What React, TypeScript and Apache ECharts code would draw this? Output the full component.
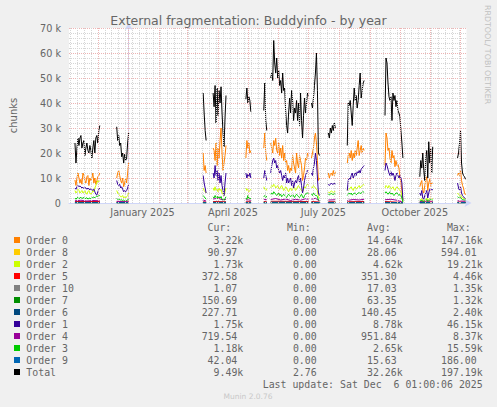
import React, { useEffect, useRef } from "react";
import * as echarts from "echarts";

// ---- time layout (days since 1 Jan 2025) ----
const X_MIN = -60;
const X_MAX = 340;
const SEG_STARTS = [-54, -12, 75, 85, 118, 136, 143, 184, 201, 220, 258, 293, 331];
const SEG_ENDS = [-29, 0, 78, 98, 123, 139, 181, 192, 208, 237, 276, 306, 339];
const MONTH_STARTS = [-31, 0, 31, 59, 90, 120, 151, 181, 212, 243, 273, 304, 334];
const LABEL_DAYS = [14, 105, 196, 288];
const LABEL_TEXT = ["January 2025", "April 2025", "July 2025", "October 2025"];

// ---- series values, thousands of chunks, one value per day ----
const TOTAL = [
  [24, 16, 22, 26, 23, 26, 27, 22, 24, 25, 19, 22, 24, 21, 20, 23, 21, 18, 22, 25, 20, 26, 27, 24, 29, 31],
  [30.5, 25, 27, 23, 24, 18.5, 20, 16, 19.5, 17, 18, 24, 28],
  [44, 36, 29, 25],
  [44, 38.5, 47, 32, 46, 35, 45, 40, 46.5, 36, 28, 22.5, 34, 43],
  [41.5, 46, 40, 42.5, 41, 36.5],
  [37, 48, 33, 29],
  [50, 52, 49, 65, 56, 52, 58, 50, 53, 47, 49, 44, 52, 45, 46, 37, 31, 28, 36, 42, 36, 45, 41, 33, 38, 36, 41, 33, 40, 31, 44, 33, 26, 35, 42, 36, 40, 44, 43],
  [40, 38, 42, 47, 52, 60, 45, 20, 19],
  [28, 26, 30, 28, 31, 29, 32, 30],
  [23, 40, 39, 41, 36, 31, 39, 46, 41, 43, 38, 41, 47, 52, 42, 45, 48, 49],
  [35, 58, 56, 48, 42.5, 41, 42.5, 33, 44, 41, 43, 38.5, 41, 37, 36, 34.5, 29, 24, 18],
  [10.5, 17, 14, 20, 13, 9, 18, 21, 10, 24.5, 16, 22, 12, 22.5],
  [18, 20, 24, 29, 16, 12, 11, 10.5, 9.49],
];
const ORDER0 = [
  [9.2, 7, 10, 12, 10, 8, 9.5, 7.5, 12, 11, 9, 8, 10.5, 11, 7, 10, 9, 10, 12, 8, 10, 7.5, 9, 10.5, 11, 12],
  [10, 12, 13, 11, 9, 8, 10, 6.5, 8, 10, 8, 12, 16],
  [20, 13, 15, 12],
  [22, 21, 17, 24, 15, 22, 18, 25, 30, 20, 13, 16, 19, 23],
  [18, 25, 22, 24, 20, 21],
  [22, 28, 20, 17],
  [24, 22, 20, 25, 23, 26, 21, 20, 24, 19, 22, 18, 23, 17, 20, 16, 17, 13, 15, 12, 14, 13, 19, 16, 14, 12, 20, 16, 14, 19, 17, 15, 9, 11, 14, 18, 17, 20, 19],
  [18, 20, 22, 26, 28, 24, 17, 9, 10],
  [12, 10, 11.5, 12, 11, 13, 11, 12.5],
  [16, 19, 20, 18, 21, 17, 20, 18, 21, 19, 22, 25, 19, 21, 23, 20, 22, 21],
  [15, 28, 26, 21, 22, 18, 16, 21, 18, 19, 14.5, 17, 15, 15.5, 14, 10.5, 8, 5, 1],
  [6.5, 8, 9, 5, 4, 7, 9, 10.5, 5, 8, 9.5, 7, 8, 8],
  [11, 12, 11, 13, 9, 7, 6, 4, 3.22],
];
const ORDER1 = [
  [6, 5.5, 6.5, 7, 6.5, 6.8, 6.5, 6, 6.3, 5.8, 6.2, 6, 5.5, 6, 5.6, 5.2, 5.8, 5.5, 5, 5.5, 4.5, 3.5, 3.2, 4.5, 5.5, 6],
  [9, 7.5, 7, 7.5, 6, 6.5, 5.5, 4.5, 5, 4.5, 5, 6, 7.5],
  [11, 8, 6, 4],
  [12, 10, 15, 11, 13, 9, 12, 8, 11, 7, 5, 3, 8, 12],
  [12, 10, 11.5, 10.5, 12, 10],
  [10, 13, 11, 9],
  [12, 15, 17, 18, 16, 17, 14, 15, 13, 12, 13, 11, 9, 11, 10, 12, 8, 10, 8, 9, 10, 7, 9, 6, 8, 9, 8, 10, 11, 8, 10, 7, 4, 6, 9, 11, 12, 13, 13],
  [12, 11, 14, 16, 20, 17, 10, 4, 3],
  [7.5, 7, 7.5, 8, 7.5, 7.5, 8, 7.5],
  [5, 9, 10, 9.5, 11, 12, 10, 11, 12, 11, 12.5, 12, 13, 12, 13.5, 14, 14.5, 15],
  [13, 16, 15, 13.5, 12, 11, 12.5, 11, 12, 11, 9, 11, 12, 11, 10, 11, 10, 8, 1],
  [4, 3, 5, 2, 1.5, 3, 4, 5, 2, 4, 5.5, 6, 5, 5.5],
  [8, 6, 5, 6.5, 4, 3, 2.5, 2, 1.75],
];
const ORDER2 = [
  [5, 4, 4.5, 5.5, 5, 4, 4.5, 5, 4, 4.5, 5, 4, 3.5, 4.5, 5, 4, 3.5, 4, 5, 4.5, 6, 7, 8, 9, 8.5, 9],
  [5, 4, 3.5, 3, 2.5, 2.5, 3, 2, 2.5, 2, 2.5, 3, 4],
  [6, 5, 4.5, 4],
  [6, 5, 6.5, 5, 5.5, 4.5, 6, 5, 5.5, 4, 3.5, 3, 4.5, 6],
  [6, 5, 5.5, 4.5, 5, 5.5],
  [6.5, 5.5, 6, 5],
  [6, 7, 6.5, 7.5, 7, 6, 6.5, 7, 6, 5.5, 6.5, 7, 6, 5, 5.5, 6.5, 6, 5, 4.5, 5.5, 6, 5, 5.5, 6.5, 6, 5, 5.5, 6.5, 7, 6, 5.5, 5, 4.5, 5.5, 6.5, 6, 7, 7.5, 7],
  [6.5, 6, 7, 6.5, 6, 5.5, 5, 2.5, 2],
  [4.5, 4, 4.5, 4.8, 4.5, 4.2, 4.6, 4.5],
  [5, 6, 5.5, 6, 6.5, 5.5, 5, 6, 6.5, 5.5, 6, 6.5, 7, 6, 6.5, 7, 7.5, 7],
  [6, 7, 6.5, 6, 7, 6.5, 5.5, 6, 6.5, 5.5, 5, 6, 6.5, 6, 5.5, 5, 4.5, 3, 0.5],
  [1.5, 1.2, 1.8, 1, 0.8, 1.3, 1.6, 2, 1, 1.5, 1.8, 2, 1.6, 1.8],
  [4, 3.5, 3, 3.5, 2.5, 2, 1.8, 1.7, 1.73],
];
const ORDER3 = [
  [2, 1.5, 2, 2.2, 1.8, 2, 2.3, 1.8, 2, 2.2, 1.7, 1.9, 2.1, 1.6, 1.8, 2, 1.7, 2, 2.2, 2.4, 2.1, 2.5, 2.8, 2.6, 2.9, 3],
  [1.8, 1.4, 1.2, 1.5, 1.1, 1.3, 1, 1.2, 0.9, 1.1, 1, 1.3, 1.5],
  [3, 2.5, 2, 1.5],
  [2.5, 2, 3, 2.2, 2.8, 1.8, 2.5, 2, 2.6, 1.5, 1.2, 1, 1.8, 2.5],
  [2, 1.5, 3, 1.8, 2, 1.6],
  [2.5, 3, 2.2, 2.8],
  [3.5, 4, 3.5, 4.5, 4, 3.5, 3, 3.5, 4, 3, 3.5, 2.5, 3, 3.5, 3, 2.5, 2.2, 3, 3.5, 3, 2.5, 3, 3.5, 2.8, 2.2, 3, 3.5, 3, 2.5, 2.2, 3, 3.5, 2.5, 2, 3, 3.5, 4, 4, 3.8],
  [3.5, 3, 4, 3.5, 3, 3, 2.5, 1.2, 1],
  [3.5, 3.3, 3.6, 3.8, 3.5, 3.4, 3.7, 3.5],
  [3, 3.5, 4, 3.5, 4, 3.2, 3.5, 4, 3.8, 3.3, 3.6, 4, 4.2, 3.8, 4, 4.3, 4.5, 4.2],
  [4, 4.5, 4, 3.5, 4, 4.5, 3.5, 4, 3.5, 3, 3.5, 4, 4, 3.5, 3, 3.5, 3, 2, 0.3],
  [1, 0.8, 1.2, 0.6, 0.5, 0.9, 1.1, 1.3, 0.6, 1, 1.2, 1.4, 1.1, 1.2],
  [2.5, 2.2, 2, 2.3, 1.6, 1.4, 1.3, 1.2, 1.18],
];
// Order 4: sparse [day, value] readings per segment
const ORDER4 = [
  [[-54, 0.9], [-48, 1.1], [-42, 0.8], [-36, 1.0], [-29, 0.9]],
  [[-12, 0.7], [-6, 0.6], [0, 0.8]],
  [[75, 1.2], [78, 0.8]],
  [[85, 1.6], [90, 1.9], [95, 1.2], [98, 1.5]],
  [[118, 1.3], [123, 1.1]],
  [[136, 1.5], [139, 1.3]],
  [[143, 1.4], [148, 1.8], [153, 1.2], [158, 1.6], [163, 1.0], [168, 1.5], [173, 1.1], [178, 1.7], [181, 1.5]],
  [[184, 1.5], [188, 1.9], [192, 0.8]],
  [[201, 1.2], [208, 1.3]],
  [[220, 1.0], [226, 1.4], [232, 1.2], [237, 1.5]],
  [[258, 1.3], [264, 1.5], [270, 1.1], [276, 0.3]],
  [[293, 0.6], [300, 0.8], [306, 0.7]],
  [[331, 0.9], [335, 0.8], [339, 0.72]],
];
// small orders: [value at segment start, value at segment end]
const ORDER5 = [[0.6, 0.6], [0.5, 0.4], [0.5, 0.4], [0.6, 0.5], [0.5, 0.5], [0.6, 0.5], [0.7, 0.6], [0.6, 0.4], [0.5, 0.5], [0.5, 0.6], [0.6, 0.2], [0.4, 0.4], [0.4, 0.37]];
const ORDER6 = [[0.3, 0.25], [0.2, 0.25], [0.3, 0.2], [0.3, 0.3], [0.25, 0.3], [0.3, 0.25], [0.35, 0.3], [0.3, 0.2], [0.25, 0.3], [0.25, 0.3], [0.3, 0.1], [0.2, 0.2], [0.25, 0.23]];
const ORDER7 = [[0.15, 0.14], [0.12, 0.13], [0.15, 0.12], [0.16, 0.15], [0.14, 0.15], [0.15, 0.14], [0.16, 0.15], [0.15, 0.12], [0.14, 0.15], [0.14, 0.16], [0.15, 0.05], [0.1, 0.12], [0.14, 0.15]];
const ORDER8 = [[0.06, 0.05], [0.05, 0.06], [0.07, 0.05], [0.07, 0.06], [0.06, 0.06], [0.07, 0.06], [0.08, 0.07], [0.07, 0.05], [0.06, 0.07], [0.06, 0.08], [0.07, 0.02], [0.05, 0.06], [0.08, 0.09]];
const ORDER9 = [[0.03, 0.03], [0.02, 0.03], [0.03, 0.02], [0.04, 0.03], [0.03, 0.03], [0.03, 0.03], [0.04, 0.03], [0.03, 0.02], [0.03, 0.03], [0.03, 0.04], [0.03, 0.01], [0.02, 0.03], [0.04, 0.04]];
const ORDER10 = [[0.02, 0.01], [0.01, 0.01], [0.02, 0.01], [0.02, 0.02], [0.01, 0.02], [0.02, 0.01], [0.02, 0.02], [0.01, 0.01], [0.01, 0.01], [0.01, 0.02], [0.01, 0.0], [0.01, 0.01], [0.0, 0.0]];

// ---- legend table ----
const LEGEND_NAMES = ["Order 0", "Order 8", "Order 2", "Order 5", "Order 10", "Order 7", "Order 6", "Order 1", "Order 4", "Order 3", "Order 9", "Total"];
const CUR = ["3.22k", "90.97", "1.73k", "372.58", "1.07", "150.69", "227.71", "1.75k", "719.54", "1.18k", "42.04", "9.49k"];
const MIN = ["0.00", "0.00", "0.00", "0.00", "0.00", "0.00", "0.00", "0.00", "0.00", "0.00", "0.00", "2.76"];
const AVG = ["14.64k", "28.06", "4.62k", "351.30", "17.03", "63.35", "140.45", "8.78k", "951.84", "2.65k", "15.63", "32.26k"];
const MAX = ["147.16k", "594.01", "19.21k", "4.46k", "1.35k", "1.32k", "2.40k", "46.15k", "8.37k", "15.59k", "186.00", "197.19k"];
const HEADERS = ["Cur:", "Min:", "Avg:", "Max:"];
const LAST_UPDATE = "Last update: Sat Dec  6 01:00:06 2025";

// ---- styles ----
const COLORS: Record<string, string> = {
  "Order 0": "#FF8000", "Order 8": "#FFCC00", "Order 2": "#CCFF00", "Order 5": "#FF0000",
  "Order 10": "#808080", "Order 7": "#008F00", "Order 6": "#00487D", "Order 1": "#330099",
  "Order 4": "#990099", "Order 3": "#00CC00", "Order 9": "#0066B3", Total: "#000000",
};
const FONT = "DejaVu Sans";
const MONO = "DejaVu Sans Mono";
const TXT = "#666666";
const MINOR_GRID = "#D6D6D6";
const MAJOR_GRID = "#EDB4B4";

function daily(segs: number[][]) {
  const out: any[] = [];
  segs.forEach((vals, s) => {
    if (s > 0) out.push([SEG_STARTS[s] - 0.5, null]);
    vals.forEach((v, i) => out.push([SEG_STARTS[s] + i, v]));
  });
  return out;
}
function sparse(segs: number[][][]) {
  const out: any[] = [];
  segs.forEach((pts, s) => {
    if (s > 0) out.push([SEG_STARTS[s] - 0.5, null]);
    pts.forEach((p) => out.push([p[0], p[1]]));
  });
  return out;
}
function ends(vals: number[][]) {
  return sparse(vals.map((v, i) => [[SEG_STARTS[i], v[0]], [SEG_ENDS[i], v[1]]]));
}

const SERIES_DATA: Record<string, any[]> = {
  "Order 0": daily(ORDER0),
  "Order 8": ends(ORDER8),
  "Order 2": daily(ORDER2),
  "Order 5": ends(ORDER5),
  "Order 10": ends(ORDER10),
  "Order 7": ends(ORDER7),
  "Order 6": ends(ORDER6),
  "Order 1": daily(ORDER1),
  "Order 4": sparse(ORDER4),
  "Order 3": daily(ORDER3),
  "Order 9": ends(ORDER9),
  Total: daily(TOTAL),
};

function buildGraphic() {
  const els: any[] = [];
  const colRight = [243.3, 322.7, 402.7, 482.7];
  const rowY0 = 240;
  const rowStep = 12;
  const mono = (text: string, x: number, y: number, align: string) => ({
    type: "text",
    silent: true,
    style: {
      text, x, y, fill: TXT, fontSize: 9.9, fontFamily: MONO,
      align, textAlign: align, verticalAlign: "middle", textVerticalAlign: "middle",
    },
  });
  HEADERS.forEach((h, c) => els.push(mono(h, colRight[c] - 12, 227.5, "right")));
  LEGEND_NAMES.forEach((name, r) => {
    const y = rowY0 + r * rowStep;
    els.push({ type: "rect", silent: true, shape: { x: 14, y: y - 3, width: 6, height: 6 }, style: { fill: COLORS[name] } });
    els.push(mono(name, 26.3, y, "left"));
    [CUR[r], MIN[r], AVG[r], MAX[r]].forEach((v, c) => {
      const suffix = /[kMG]$/.test(v);
      els.push(mono(v, colRight[c] - (suffix ? 0 : 6), y, "right"));
    });
  });
  els.push(mono(LAST_UPDATE, 482.7, rowY0 + 12 * rowStep, "right"));
  els.push({
    type: "text", silent: true,
    style: { text: "Munin 2.0.76", x: 248, y: 396, fill: "#C8C8C8", fontSize: 7.5, fontFamily: FONT, align: "center", textAlign: "center", verticalAlign: "middle", textVerticalAlign: "middle" },
  });
  els.push({
    type: "text", silent: true, x: 487, y: 5, rotation: -Math.PI / 2,
    style: { text: "RRDTOOL/ TOBI OETIKER", x: 0, y: 0, fill: "#C0C0C0", fontSize: 7.9, fontFamily: FONT, align: "left", textAlign: "left", verticalAlign: "middle", textVerticalAlign: "middle" },
  });
  return els;
}

function gridSeries(days: number[], color: string) {
  return {
    type: "line", z: 1, silent: true, data: [[X_MIN, null]], showSymbol: false,
    lineStyle: { opacity: 0 },
    markLine: {
      silent: true, symbol: ["none", "none"], label: { show: false }, animation: false,
      lineStyle: { color, type: [1, 1], width: 1, opacity: 1 },
      emphasis: { disabled: true },
      data: days.map((d) => ({ xAxis: d })),
    },
  };
}

export default function App() {
  const ref = useRef<HTMLDivElement>(null);
  useEffect(() => {
    document.body.style.margin = "0";
    const chart = echarts.init(ref.current!, undefined, { renderer: "svg" });
    const weeks: number[] = [];
    for (let d = -59; d < X_MAX; d += 7) weeks.push(d);

    const series: any[] = [gridSeries(weeks, MINOR_GRID), gridSeries(MONTH_STARTS, MAJOR_GRID)];
    LEGEND_NAMES.forEach((name) => {
      series.push({
        type: "line", name, z: 2, silent: true, showSymbol: false, symbol: "none",
        connectNulls: false, color: COLORS[name],
        lineStyle: { width: 1, color: COLORS[name] },
        data: SERIES_DATA[name],
      });
    });

    chart.setOption({
      animation: false,
      backgroundColor: "#F0F0F0",
      title: {
        text: "External fragmentation: Buddyinfo - by year",
        left: "center", top: 9,
        textStyle: { fontFamily: FONT, fontSize: 12.5, fontWeight: "normal", color: TXT },
      },
      grid: { left: 66.5, right: 30.5, top: 28, bottom: 204, show: true, backgroundColor: "#FFFFFF", borderWidth: 0 },
      xAxis: {
        type: "value", min: X_MIN, max: X_MAX,
        splitLine: { show: false },
        axisTick: { show: false },
        axisLine: { lineStyle: { color: "#CFD6F8", width: 1 }, symbol: ["none", "arrow"], symbolSize: [6, 7], symbolOffset: [0, 5] },
        axisLabel: {
          customValues: LABEL_DAYS,
          formatter: (v: number) => LABEL_TEXT[LABEL_DAYS.indexOf(v)] ?? "",
          color: TXT, fontFamily: FONT, fontSize: 9.7, margin: 4,
        },
      },
      yAxis: {
        type: "value", min: 0, max: 70, interval: 10,
        name: "chunks", nameLocation: "middle", nameRotate: 90, nameGap: 51,
        nameTextStyle: { color: TXT, fontFamily: FONT, fontSize: 10 },
        axisLine: { show: true, lineStyle: { color: "#CFD6F8", width: 1 }, symbol: ["none", "arrow"], symbolSize: [6, 7], symbolOffset: [0, 5] },
        axisTick: { show: false },
        axisLabel: {
          formatter: (v: number) => (v === 0 ? "0" : v + " k"),
          color: TXT, fontFamily: FONT, fontSize: 9.7, margin: 8,
        },
        splitLine: { show: true, lineStyle: { color: MAJOR_GRID, type: [1, 1], width: 1 } },
        minorTick: { show: false, splitNumber: 5 },
        minorSplitLine: { show: true, lineStyle: { color: MINOR_GRID, type: [1, 1], width: 1 } },
      },
      graphic: buildGraphic(),
      series,
    });
    return () => chart.dispose();
  }, []);
  return <div ref={ref} style={{ width: 497, height: 407 }} />;
}
